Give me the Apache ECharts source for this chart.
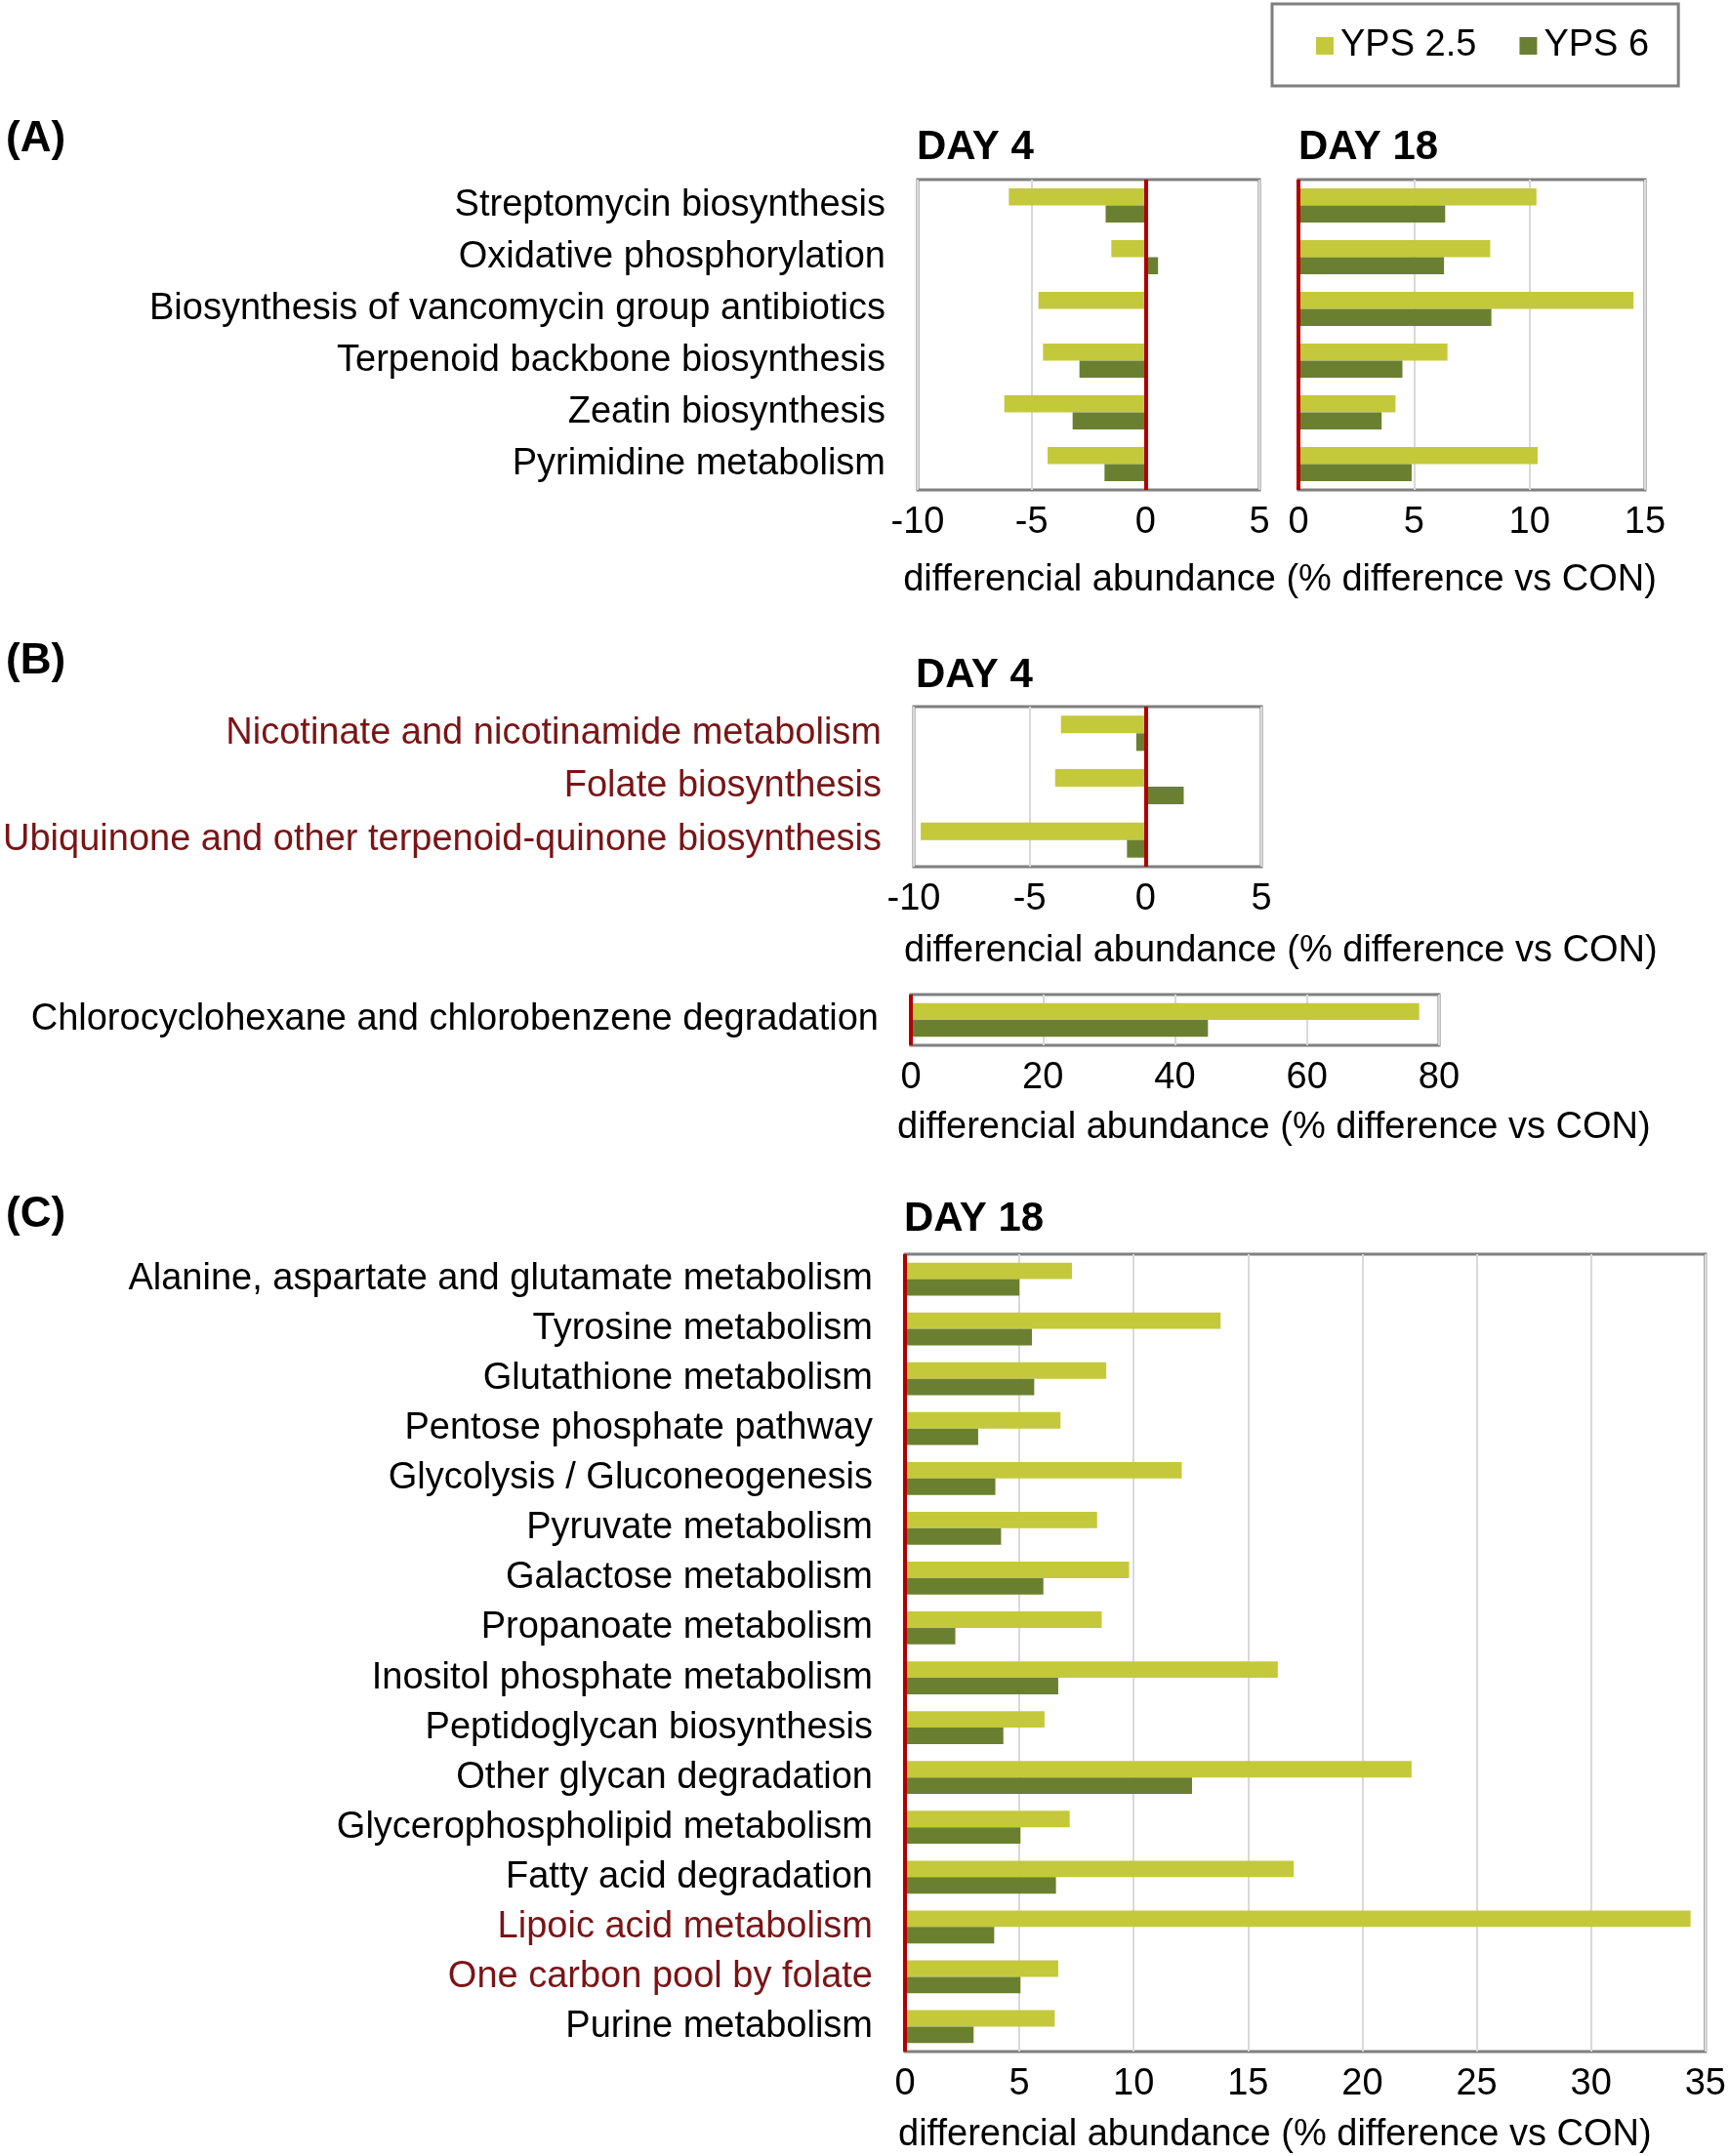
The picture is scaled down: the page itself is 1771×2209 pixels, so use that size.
<!DOCTYPE html>
<html>
<head>
<meta charset="utf-8">
<script src="https://cdn.jsdelivr.net/npm/echarts@6/dist/echarts.min.js"></script>
<style>
  html, body { margin: 0; padding: 0; background: #fff; }
  #chart { width: 1771px; height: 2209px; }
</style>
</head>
<body>
<div id="chart"></div>
<script>
// panel A: day 4 and day 18
const catsA = [
  "Streptomycin biosynthesis",
  "Oxidative phosphorylation",
  "Biosynthesis of vancomycin group antibiotics",
  "Terpenoid backbone biosynthesis",
  "Zeatin biosynthesis",
  "Pyrimidine metabolism",
];
const aDay4Yps25 = [-6.0, -1.5, -4.7, -4.5, -6.2, -4.3];
const aDay4Yps6 = [-1.75, 0.55, 0, -2.9, -3.2, -1.8];
const aDay18Yps25 = [10.3, 8.3, 14.5, 6.45, 4.2, 10.35];
const aDay18Yps6 = [6.35, 6.3, 8.35, 4.5, 3.6, 4.9];

// panel B: day 4
const catsB = [
  "Nicotinate and nicotinamide metabolism",
  "Folate biosynthesis",
  "Ubiquinone and other terpenoid-quinone biosynthesis",
];
const bDay4Yps25 = [-3.65, -3.9, -9.7];
const bDay4Yps6 = [-0.4, 1.65, -0.8];
const catsB2 = ["Chlorocyclohexane and chlorobenzene degradation"];
const b2Yps25 = [77];
const b2Yps6 = [45];

// panel C: day 18
const catsC = [
  "Alanine, aspartate and glutamate metabolism",
  "Tyrosine metabolism",
  "Glutathione metabolism",
  "Pentose phosphate pathway",
  "Glycolysis / Gluconeogenesis",
  "Pyruvate metabolism",
  "Galactose metabolism",
  "Propanoate metabolism",
  "Inositol phosphate metabolism",
  "Peptidoglycan biosynthesis",
  "Other glycan degradation",
  "Glycerophospholipid metabolism",
  "Fatty acid degradation",
  "Lipoic acid metabolism",
  "One carbon pool by folate",
  "Purine metabolism",
];
const cYps25 = [7.3, 13.8, 8.8, 6.8, 12.1, 8.4, 9.8, 8.6, 16.3, 6.1, 22.15, 7.2, 17.0, 34.35, 6.7, 6.55];
const cYps6 = [5.0, 5.55, 5.65, 3.2, 3.95, 4.2, 6.05, 2.2, 6.7, 4.3, 12.55, 5.05, 6.6, 3.9, 5.05, 3.0];

const highlighted = [
  "Nicotinate and nicotinamide metabolism",
  "Folate biosynthesis",
  "Ubiquinone and other terpenoid-quinone biosynthesis",
  "Lipoic acid metabolism",
  "One carbon pool by folate",
];

const axisTitle = "differencial abundance (% difference vs CON)";
const FONT = "'Liberation Sans', Arial, sans-serif";
const LIGHT = "#c4c93b";
const DARK = "#6a8030";
const RED = "#b00000";

const chart = echarts.init(document.getElementById("chart"), null, { renderer: "canvas" });

const grids = [
  { left: 940, top: 184, width: 350, height: 318 },
  { left: 1330, top: 184, width: 355, height: 318 },
  { left: 936, top: 724, width: 356, height: 164 },
  { left: 933, top: 1019, width: 541, height: 52 },
  { left: 927, top: 1285, width: 822, height: 817 },
];
const ranges = [
  [-10, 5, 5],
  [0, 15, 5],
  [-10, 5, 5],
  [0, 80, 20],
  [0, 35, 5],
];
const cats = [catsA, catsA, catsB, catsB2, catsC];
const values = [
  [aDay4Yps25, aDay4Yps6],
  [aDay18Yps25, aDay18Yps6],
  [bDay4Yps25, bDay4Yps6],
  [b2Yps25, b2Yps6],
  [cYps25, cYps6],
];

const xAxes = ranges.map((r, i) => ({
  type: "value",
  gridIndex: i,
  min: r[0],
  max: r[1],
  interval: r[2],
  axisLine: { show: false },
  axisTick: { show: false },
  splitLine: { show: true, lineStyle: { color: "#d9d9d9", width: 2 } },
  axisLabel: { fontSize: 38, color: "#000", fontFamily: FONT, margin: 15 },
}));

const yAxes = cats.map((c, i) => ({
  type: "category",
  gridIndex: i,
  data: c,
  inverse: true,
  axisLine: { show: false },
  axisTick: { show: false },
  axisLabel: {
    show: i !== 1,
    fontSize: 38,
    fontFamily: FONT,
    margin: 33,
    padding: [9, 0, 0, 0],
    color: (v) => (highlighted.includes(v) ? "#7a1416" : "#000"),
  },
}));

const series = [];
values.forEach((pair, i) => {
  series.push({
    name: "YPS 2.5",
    type: "bar",
    xAxisIndex: i,
    yAxisIndex: i,
    data: pair[0],
    itemStyle: { color: LIGHT },
    barGap: "0%",
    barCategoryGap: "34%",
  });
  series.push({
    name: "YPS 6",
    type: "bar",
    xAxisIndex: i,
    yAxisIndex: i,
    data: pair[1],
    itemStyle: { color: DARK },
    barGap: "0%",
    barCategoryGap: "34%",
    markLine: {
      silent: true,
      symbol: "none",
      label: { show: false },
      lineStyle: { color: RED, width: 4, type: "solid" },
      data: [{ xAxis: 0 }],
    },
  });
});

function txt(text, x, y, size, bold, align) {
  return {
    type: "text",
    x: x,
    y: y,
    style: {
      text: text,
      fontSize: size,
      fontWeight: bold ? "bold" : "normal",
      fontFamily: FONT,
      fill: "#000",
      align: align || "left",
      verticalAlign: "middle",
      textAlign: align || "left",
      textVerticalAlign: "middle",
    },
  };
}

const option = {
  backgroundColor: "#fff",
  animation: false,
  textStyle: { fontFamily: FONT },
  legend: {
    data: ["YPS 2.5", "YPS 6"],
    left: 1303,
    top: 4,
    orient: "horizontal",
    icon: "rect",
    itemWidth: 18,
    itemHeight: 18,
    itemGap: 44,
    padding: [24, 30, 22, 45],
    borderColor: "#7f7f7f",
    borderWidth: 3,
    textStyle: { fontSize: 38, color: "#000", fontFamily: FONT, padding: [4, 0, 0, 2] },
  },
  grid: grids.map((g) => ({
    ...g,
    show: true,
    borderColor: "#7f7f7f",
    borderWidth: 3,
    backgroundColor: "transparent",
    containLabel: false,
  })),
  xAxis: xAxes,
  yAxis: yAxes,
  series: series,
  graphic: [
    txt("(A)", 6, 143, 44, true),
    txt("(B)", 6, 678, 44, true),
    txt("(C)", 6, 1245, 44, true),
    txt("DAY 4", 939, 151, 42, true),
    txt("DAY 18", 1330, 151, 42, true),
    txt("DAY 4", 938, 692, 42, true),
    txt("DAY 18", 926, 1249, 42, true),
    txt(axisTitle, 1311, 595, 38, false, "center"),
    txt(axisTitle, 926, 975, 38, false),
    txt(axisTitle, 919, 1156, 38, false),
    txt(axisTitle, 920, 2188, 38, false),
  ],
};

chart.setOption(option);
</script>
</body>
</html>
